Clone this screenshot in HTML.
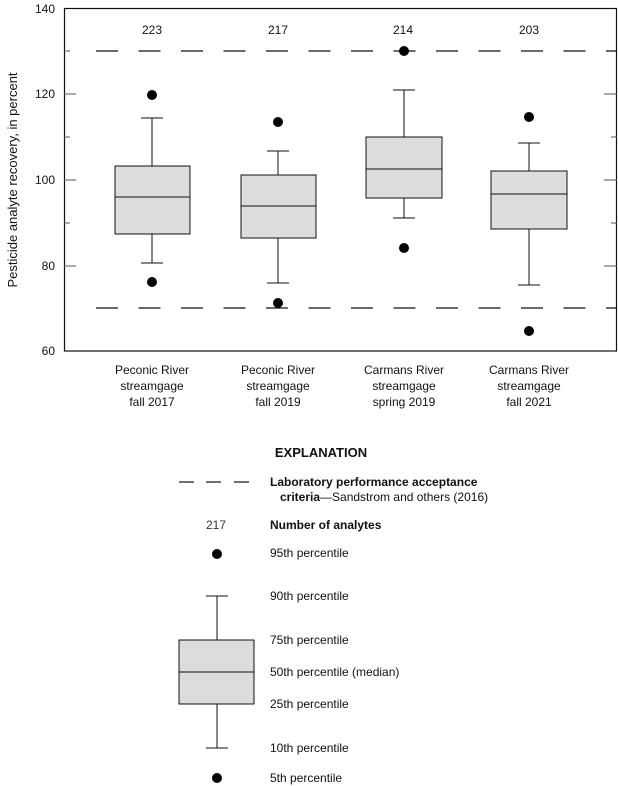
<!DOCTYPE html>
<html><head><style>
body{margin:0;background:#fff}
svg{display:block}
text{font-family:"Liberation Sans Narrow","Liberation Sans",sans-serif;font-size:12px;fill:#111}
.b{font-weight:bold}
</style></head><body>
<svg width="618" height="786" viewBox="0 0 618 786">
<!-- frame -->
<rect x="64.5" y="8.5" width="552" height="342.5" fill="none" stroke="#111" stroke-width="1.2"/>
<!-- ticks -->
<g stroke="#555" stroke-width="1">
<line x1="64" y1="94" x2="76" y2="94"/><line x1="64" y1="137" x2="70" y2="137"/>
<line x1="64" y1="180" x2="76" y2="180"/><line x1="64" y1="223" x2="70" y2="223"/>
<line x1="64" y1="266" x2="76" y2="266"/><line x1="64" y1="51" x2="70" y2="51"/>
<line x1="604" y1="94" x2="617" y2="94"/><line x1="611" y1="137" x2="617" y2="137"/>
<line x1="604" y1="180" x2="617" y2="180"/><line x1="611" y1="223" x2="617" y2="223"/>
<line x1="604" y1="266" x2="617" y2="266"/>
</g>
<!-- y labels -->
<g text-anchor="end">
<text x="55" y="13">140</text><text x="55" y="98">120</text><text x="55" y="184">100</text>
<text x="55" y="270">80</text><text x="55" y="355">60</text>
</g>
<text transform="translate(17,180) rotate(-90)" text-anchor="middle" style="font-size:13px">Pesticide analyte recovery, in percent</text>
<!-- dashed lines -->
<g stroke="#111" stroke-width="1.2" stroke-dasharray="22,20.5">
<line x1="96" y1="51" x2="617" y2="51"/><line x1="96" y1="308" x2="617" y2="308"/>
</g>
<!-- counts -->
<g text-anchor="middle" style="fill:#333">
<text x="152" y="34">223</text><text x="278" y="34">217</text><text x="403" y="34">214</text><text x="529" y="34">203</text>
</g>
<!-- boxes -->
<g stroke="#111" stroke-width="1">
<line x1="152" y1="118" x2="152" y2="263"/><line x1="141" y1="118" x2="163" y2="118"/><line x1="141" y1="263" x2="163" y2="263"/>
<rect x="115" y="166" width="75" height="68" fill="#dcdcdd"/><line x1="115" y1="197" x2="190" y2="197"/>
<line x1="278" y1="151" x2="278" y2="283"/><line x1="267" y1="151" x2="289" y2="151"/><line x1="267" y1="283" x2="289" y2="283"/>
<rect x="241" y="175" width="75" height="63" fill="#dcdcdd"/><line x1="241" y1="206" x2="316" y2="206"/>
<line x1="404" y1="90" x2="404" y2="218"/><line x1="393" y1="90" x2="415" y2="90"/><line x1="393" y1="218" x2="415" y2="218"/>
<rect x="366" y="137" width="76" height="61" fill="#dcdcdd"/><line x1="366" y1="169" x2="442" y2="169"/>
<line x1="529" y1="143" x2="529" y2="285"/><line x1="518" y1="143" x2="540" y2="143"/><line x1="518" y1="285" x2="540" y2="285"/>
<rect x="491" y="171" width="76" height="58" fill="#dcdcdd"/><line x1="491" y1="194" x2="567" y2="194"/>
</g>
<g fill="#000">
<circle cx="152" cy="95" r="5"/><circle cx="152" cy="282" r="5"/>
<circle cx="278" cy="122" r="5"/><circle cx="278" cy="303" r="5"/>
<circle cx="404" cy="51" r="5"/><circle cx="404" cy="248" r="5"/>
<circle cx="529" cy="117" r="5"/><circle cx="529" cy="331" r="5"/>
</g>
<!-- category labels -->
<g text-anchor="middle">
<text x="152" y="374">Peconic River</text><text x="152" y="390">streamgage</text><text x="152" y="406">fall 2017</text>
<text x="278" y="374">Peconic River</text><text x="278" y="390">streamgage</text><text x="278" y="406">fall 2019</text>
<text x="404" y="374">Carmans River</text><text x="404" y="390">streamgage</text><text x="404" y="406">spring 2019</text>
<text x="529" y="374">Carmans River</text><text x="529" y="390">streamgage</text><text x="529" y="406">fall 2021</text>
</g>
<!-- explanation -->
<text x="321" y="457" text-anchor="middle" class="b" style="font-size:13px">EXPLANATION</text>
<g stroke="#111" stroke-width="1.2"><line x1="179" y1="482" x2="194" y2="482"/><line x1="206" y1="482" x2="221" y2="482"/><line x1="234" y1="482" x2="249" y2="482"/></g>
<text x="270" y="486" class="b">Laboratory performance acceptance</text>
<text x="280" y="501"><tspan class="b">criteria</tspan>—Sandstrom and others (2016)</text>
<text x="216" y="529" text-anchor="middle" style="fill:#333">217</text>
<text x="270" y="529" class="b">Number of analytes</text>
<circle cx="217" cy="554" r="5" fill="#000"/>
<text x="270" y="557">95th percentile</text>
<g stroke="#111" stroke-width="1">
<line x1="217" y1="596" x2="217" y2="748"/><line x1="206" y1="596" x2="228" y2="596"/><line x1="206" y1="748" x2="228" y2="748"/>
<rect x="179" y="640" width="75" height="64" fill="#dcdcdd"/><line x1="179" y1="672" x2="254" y2="672"/>
</g>
<circle cx="217" cy="778" r="5" fill="#000"/>
<text x="270" y="600">90th percentile</text>
<text x="270" y="644">75th percentile</text>
<text x="270" y="676">50th percentile (median)</text>
<text x="270" y="708">25th percentile</text>
<text x="270" y="752">10th percentile</text>
<text x="270" y="782">5th percentile</text>
</svg>
</body></html>
